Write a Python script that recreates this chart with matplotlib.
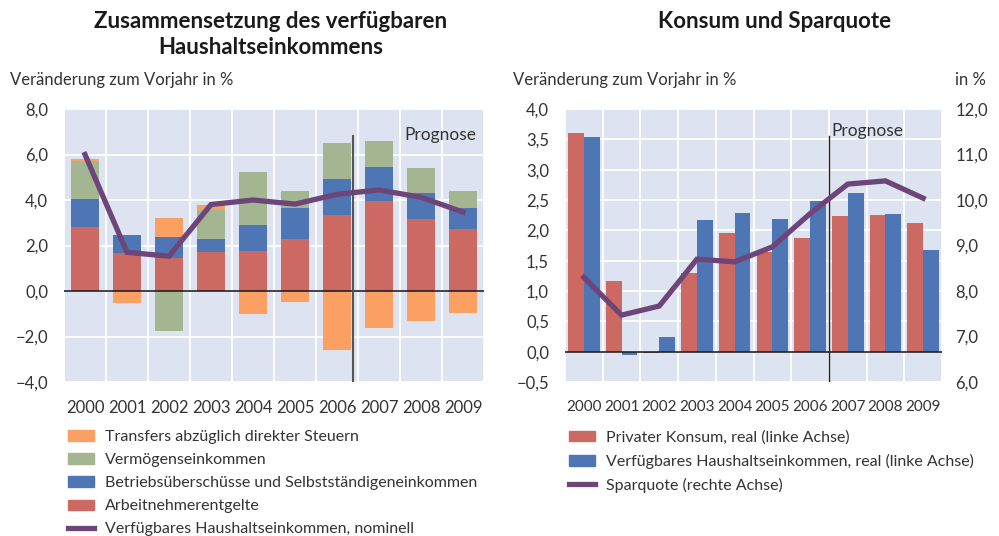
import matplotlib
matplotlib.use("Agg")
import matplotlib.pyplot as plt
import numpy as np
from matplotlib.patches import Patch
from matplotlib.lines import Line2D

plt.rcParams['font.family'] = ['Lato', 'DejaVu Sans']

# Daten
jahre = ['2000', '2001', '2002', '2003', '2004', '2005', '2006', '2007', '2008', '2009']
arbeitnehmer = [2.80, 1.65, 1.47, 1.73, 1.76, 2.29, 3.35, 3.96, 3.17, 2.73]
betrieb = [1.25, 0.79, 0.92, 0.57, 1.15, 1.38, 1.58, 1.50, 1.15, 0.94]
vermoegen = [1.68, 0.03, -1.75, 1.24, 2.33, 0.73, 1.59, 1.15, 1.10, 0.74]
transfers = [0.08, -0.52, 0.84, 0.25, -1.00, -0.47, -2.58, -1.62, -1.31, -0.96]
nominell = [6.0, 1.70, 1.53, 3.80, 4.00, 3.82, 4.25, 4.44, 4.12, 3.47]

konsum = [3.61, 1.17, -0.02, 1.30, 1.95, 1.64, 1.88, 2.23, 2.25, 2.12]
einkommen_real = [3.54, -0.05, 0.24, 2.17, 2.28, 2.18, 2.48, 2.61, 2.27, 1.67]
sparquote = [8.30, 7.47, 7.67, 8.70, 8.64, 8.97, 9.70, 10.35, 10.42, 10.04]

# Farben
c_orange = '#FBA062'
c_gruen = '#A4B591'
c_blau = '#4F76B4'
c_rot = '#CD6963'
c_lila = '#6E4579'
c_bg = '#DDE3F0'
c_text = '#333333'
fs = 12
fs_leg = 11.5

fmt = lambda v: ('%.1f' % v).replace('.', ',').replace('-', '\u2212')

fig = plt.figure(figsize=(9.99, 5.36), dpi=100)
W, H = 999, 536
ax_pos = lambda x0, y0, x1, y1: [x0 / W, 1 - y1 / H, (x1 - x0) / W, (y1 - y0) / H]

def basis(ax, xfs):
    ax.set_facecolor(c_bg)
    for s in ax.spines.values():
        s.set_visible(False)
    ax.set_xlim(-0.5, 9.5)
    ax.set_xticks(np.arange(10))
    ax.set_xticklabels(jahre)
    ax.set_xticks(np.arange(-0.5, 10, 1), minor=True)
    ax.grid(True, which='minor', axis='x', color='white', lw=1.3)
    ax.grid(True, which='major', axis='y', color='white', lw=1.3)
    ax.set_axisbelow(True)
    ax.tick_params(axis='both', which='both', length=0, labelsize=fs,
                   labelcolor=c_text)
    ax.tick_params(axis='x', pad=13, labelsize=xfs)
    ax.tick_params(axis='y', pad=11.5)

# ---------- linkes Diagramm ----------
ax1 = fig.add_axes(ax_pos(64, 109, 484, 382))
basis(ax1, 12)
ax1.set_ylim(-4, 8)
ax1.set_yticks(np.arange(-4, 8.1, 2))
ax1.set_yticklabels([fmt(v) for v in np.arange(-4, 8.1, 2)])

x = np.arange(10)
pos = np.zeros(10)
neg = np.zeros(10)
for werte, farbe in [(arbeitnehmer, c_rot), (betrieb, c_blau), (vermoegen, c_gruen), (transfers, c_orange)]:
    werte = np.array(werte)
    unten = np.where(werte >= 0, pos, neg)
    ax1.bar(x, werte, bottom=unten, width=0.67, color=farbe, zorder=2)
    pos = pos + np.where(werte >= 0, werte, 0)
    neg = neg + np.where(werte < 0, werte, 0)

ax1.axhline(0, color='#222222', lw=1.2, zorder=3)
ax1.plot(x, nominell, color=c_lila, lw=3.8, zorder=4, solid_joinstyle='miter')
ax1.plot([6.38, 6.38], [-4, 6.8], color='#555555', lw=1.5, zorder=5)
ax1.text(7.6, 6.85, 'Prognose', fontsize=12.5, color=c_text, va='center', ha='left')

fig.text(271 / W, 1 - 22 / H, 'Zusammensetzung des verfügbaren', ha='center', va='center',
         fontsize=16, fontweight='bold', color='#1a1a1a')
fig.text(271 / W, 1 - 47 / H, 'Haushaltseinkommens', ha='center', va='center',
         fontsize=16, fontweight='bold', color='#1a1a1a')
fig.text(10 / W, 1 - 80 / H, 'Veränderung zum Vorjahr in %', ha='left', va='center',
         fontsize=fs, color=c_text)

h1 = [Patch(color=c_orange), Patch(color=c_gruen), Patch(color=c_blau), Patch(color=c_rot),
      Line2D([], [], color=c_lila, lw=3.8)]
l1 = ['Transfers abzüglich direkter Steuern', 'Vermögenseinkommen',
      'Betriebsüberschüsse und Selbstständigeneinkommen', 'Arbeitnehmerentgelte',
      'Verfügbares Haushaltseinkommen, nominell']
fig.legend(h1, l1, loc='upper left', bbox_to_anchor=(62 / W, 1 - 424 / H), frameon=False,
           fontsize=fs_leg, handlelength=1.6, handleheight=0.65, labelspacing=0.565,
           handletextpad=0.7, borderaxespad=0, labelcolor=c_text)

# ---------- rechtes Diagramm ----------
ax2 = fig.add_axes(ax_pos(565, 109, 942, 382))
basis(ax2, 11)
ax2.set_ylim(-0.5, 4.0)
yt = np.arange(-0.5, 4.01, 0.5)
ax2.set_yticks(yt)
ax2.set_yticklabels([fmt(v) for v in yt])
ax2.bar(x - 0.21, konsum, width=0.42, color=c_rot, zorder=2)
ax2.bar(x + 0.21, einkommen_real, width=0.42, color=c_blau, zorder=2)
ax2.axhline(0, color='#222222', lw=1.2, zorder=3)
ax2.plot([6.5, 6.5], [-0.5, 3.55], color='#222222', lw=1.0, zorder=5)
ax2.text(6.56, 3.64, 'Prognose', fontsize=12.5, color=c_text, va='center', ha='left')

ax3 = ax2.twinx()
for s in ax3.spines.values():
    s.set_visible(False)
ax3.set_ylim(6, 12)
yt3 = np.arange(6, 12.1, 1)
ax3.set_yticks(yt3)
ax3.set_yticklabels([fmt(v) for v in yt3])
ax3.tick_params(axis='y', length=0, labelsize=fs, labelcolor=c_text, pad=9.5)
ax3.plot(x, sparquote, color=c_lila, lw=3.8, zorder=4, solid_joinstyle='miter')

fig.text(775 / W, 1 - 22 / H, 'Konsum und Sparquote', ha='center', va='center',
         fontsize=16, fontweight='bold', color='#1a1a1a')
fig.text(513 / W, 1 - 80 / H, 'Veränderung zum Vorjahr in %', ha='left', va='center',
         fontsize=fs, color=c_text)
fig.text(986 / W, 1 - 80 / H, 'in %', ha='right', va='center',
         fontsize=fs, color=c_text)

h2 = [Patch(color=c_rot), Patch(color=c_blau), Line2D([], [], color=c_lila, lw=3.8)]
l2 = ['Privater Konsum, real (linke Achse)', 'Verfügbares Haushaltseinkommen, real (linke Achse)',
      'Sparquote (rechte Achse)']
fig.legend(h2, l2, loc='upper left', bbox_to_anchor=(563 / W, 1 - 424 / H), frameon=False,
           fontsize=fs_leg, handlelength=1.6, handleheight=0.65, labelspacing=0.565,
           handletextpad=0.7, borderaxespad=0, labelcolor=c_text)

fig.savefig('out.png', dpi=100)
